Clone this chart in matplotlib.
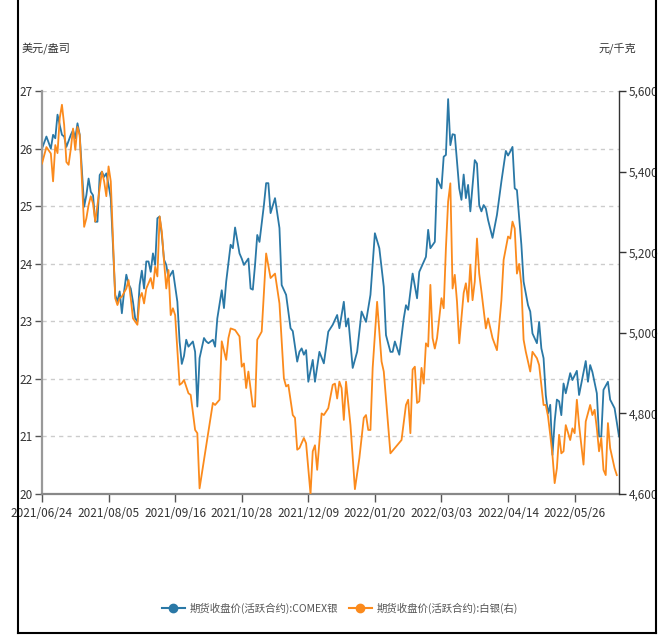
#!/usr/bin/env python3
import matplotlib
matplotlib.use("Agg")
import matplotlib.pyplot as plt
from matplotlib.lines import Line2D
from matplotlib.ticker import FuncFormatter

plt.rcParams['font.family'] = ['Noto Sans CJK SC', 'DejaVu Sans']

# tick dates, one every 30 trading days
tick_days = [0, 30, 60, 90, 120, 150, 180, 210, 240]
tick_labels = ['2021/06/24', '2021/08/05', '2021/09/16', '2021/10/28', '2021/12/09',
               '2022/01/20', '2022/03/03', '2022/04/14', '2022/05/26']

# COMEX silver, USD/oz (trading-day index, close)
comex_day = [0, 2, 4, 5, 6, 7, 8, 9, 10, 11, 13, 14, 15, 16, 17, 19, 20, 21, 22, 23,
             24, 25, 26, 27, 28, 29, 30, 31, 33, 34, 35, 36, 37, 38, 39, 40, 41, 42, 43, 44,
             45, 46, 47, 48, 49, 50, 51, 52, 53, 54, 55, 56, 57, 59, 61, 62, 63, 64, 65, 66,
             68, 69, 70, 71, 73, 74, 75, 77, 78, 79, 81, 82, 83, 85, 86, 87, 89, 90, 91, 93,
             94, 95, 96, 97, 98, 100, 101, 102, 103, 105, 107, 108, 110, 112, 113, 115, 116, 117, 118, 119,
             120, 122, 123, 125, 127, 129, 131, 133, 134, 136, 137, 138, 140, 142, 144, 146, 148, 150, 152, 154,
             155, 157, 158, 159, 161, 163, 164, 165, 167, 169, 170, 173, 174, 175, 177, 178, 180, 181, 182, 183,
             184, 185, 186, 188, 189, 190, 191, 192, 193, 195, 196, 197, 198, 199, 200, 201, 203, 205, 207, 209,
             210, 211, 212, 213, 214, 216, 217, 218, 219, 220, 221, 223, 224, 225, 226, 227, 228, 229, 230, 231,
             232, 233, 234, 235, 236, 238, 239, 241, 242, 244, 245, 246, 247, 248, 250, 251, 252, 253, 255, 256,
             258, 260]
comex_close = [26.00, 26.21, 26.00, 26.24, 26.18, 26.59, 26.41, 26.24, 26.21, 26.03, 26.24, 26.32, 26.18, 26.44, 26.24, 24.99, 25.19, 25.48, 25.25, 25.19,
               24.73, 24.73, 25.54, 25.60, 25.51, 25.57, 25.37, 25.14, 23.46, 23.34, 23.52, 23.14, 23.52, 23.81, 23.65, 23.57, 23.34, 23.05, 23.00, 23.63,
               23.88, 23.57, 24.04, 24.04, 23.86, 24.18, 23.98, 24.79, 24.82, 24.50, 24.07, 23.98, 23.75, 23.88, 23.34, 22.65, 22.26, 22.40, 22.68, 22.56,
               22.65, 22.47, 21.52, 22.36, 22.71, 22.65, 22.62, 22.68, 22.56, 23.05, 23.54, 23.23, 23.69, 24.33, 24.27, 24.63, 24.18, 24.09, 23.98, 24.09,
               23.57, 23.55, 23.98, 24.50, 24.38, 25.02, 25.40, 25.40, 24.88, 25.14, 24.62, 23.63, 23.46, 22.88, 22.83, 22.30, 22.47, 22.53, 22.42, 22.50,
               21.95, 22.33, 21.95, 22.47, 22.27, 22.82, 22.94, 23.11, 22.88, 23.34, 22.91, 23.05, 22.19, 22.47, 23.17, 22.99, 23.46, 24.53, 24.27, 23.60,
               22.76, 22.47, 22.47, 22.65, 22.42, 23.05, 23.28, 23.20, 23.83, 23.40, 23.86, 24.12, 24.59, 24.27, 24.38, 25.48, 25.31, 25.86, 25.89, 26.86,
               26.06, 26.25, 26.24, 25.31, 25.11, 25.55, 25.14, 25.37, 24.91, 25.80, 25.74, 25.02, 24.91, 25.02, 24.96, 24.76, 24.45, 24.85, 25.43, 25.96,
               25.88, 25.95, 26.03, 25.31, 25.28, 24.33, 23.69, 23.49, 23.28, 23.17, 22.79, 22.62, 22.99, 22.53, 22.36, 21.72, 21.40, 21.55, 20.68, 21.26,
               21.64, 21.61, 21.37, 21.92, 21.75, 22.10, 21.98, 22.14, 21.72, 22.12, 22.31, 21.95, 22.24, 22.12, 21.75, 21.00, 21.00, 21.81, 21.95, 21.64,
               21.49, 21.00]

# SHFE silver, CNY/kg (right axis)
shfe_day = [0, 2, 4, 5, 6, 7, 8, 9, 10, 11, 12, 13, 14, 15, 16, 17, 19, 20, 21, 22,
            23, 24, 26, 27, 28, 29, 30, 31, 33, 34, 35, 36, 38, 39, 40, 41, 43, 44, 45, 46,
            47, 49, 50, 51, 52, 53, 54, 55, 56, 57, 58, 59, 60, 62, 63, 64, 66, 67, 69, 70,
            71, 77, 78, 80, 81, 83, 84, 85, 87, 89, 90, 91, 92, 93, 95, 96, 97, 99, 101, 103,
            105, 107, 109, 110, 111, 113, 114, 115, 116, 118, 119, 121, 122, 123, 124, 126, 127, 129, 131, 132,
            133, 134, 135, 136, 137, 139, 141, 143, 145, 146, 147, 148, 149, 151, 153, 154, 157, 162, 164, 165,
            166, 167, 168, 169, 170, 171, 172, 173, 174, 175, 176, 177, 178, 180, 181, 182, 183, 184, 185, 186,
            187, 188, 190, 191, 192, 193, 194, 195, 196, 197, 198, 200, 201, 203, 205, 206, 207, 208, 210, 211,
            212, 213, 214, 215, 216, 217, 218, 220, 221, 223, 224, 226, 227, 228, 229, 230, 231, 232, 233, 234,
            235, 236, 238, 239, 240, 241, 242, 244, 245, 247, 248, 249, 250, 251, 252, 253, 254, 255, 256, 258,
            259]
shfe_close = [5420, 5461, 5445, 5376, 5466, 5446, 5533, 5566, 5516, 5424, 5417, 5457, 5507, 5454, 5511, 5491, 5263, 5284, 5317, 5339,
              5321, 5276, 5359, 5400, 5376, 5339, 5413, 5376, 5086, 5069, 5086, 5090, 5110, 5131, 5086, 5036, 5020, 5086, 5099, 5073,
              5110, 5136, 5110, 5164, 5140, 5289, 5251, 5177, 5110, 5156, 5044, 5061, 5044, 4871, 4875, 4883, 4850, 4846, 4759, 4751,
              4614, 4826, 4821, 4834, 4979, 4933, 4987, 5011, 5007, 4991, 4916, 4924, 4863, 4904, 4817, 4817, 4983, 5003, 5197, 5136,
              5147, 5073, 4887, 4867, 4871, 4796, 4789, 4710, 4714, 4739, 4726, 4600, 4706, 4721, 4660, 4800, 4796, 4813, 4871, 4874,
              4837, 4879, 4863, 4784, 4879, 4771, 4612, 4689, 4789, 4796, 4759, 4759, 4913, 5077, 4929, 4904, 4701, 4734, 4821, 4834,
              4751, 4909, 4916, 4826, 4830, 4913, 4874, 4974, 4966, 5119, 4987, 4961, 4987, 5086, 5061, 5210, 5326, 5371, 5110, 5144,
              5077, 4974, 5099, 5123, 5077, 5169, 5081, 5127, 5234, 5147, 5103, 5011, 5036, 4987, 4957, 5020, 5081, 5181, 5239, 5234,
              5276, 5259, 5147, 5171, 5119, 4983, 4953, 4904, 4953, 4937, 4920, 4821, 4821, 4793, 4747, 4697, 4627, 4664, 4747, 4701,
              4706, 4771, 4734, 4763, 4751, 4834, 4771, 4673, 4780, 4821, 4796, 4809, 4763, 4706, 4739, 4660, 4647, 4776, 4714, 4664,
              4647]

BLUE = '#2a78a6'
ORANGE = '#fb8a1c'


def main() -> None:
    fig = plt.figure(figsize=(6.61, 6.35), dpi=100)
    ax = fig.add_axes([0.0635, 0.222, 0.873, 0.6346])
    ax2 = ax.twinx()

    ax.plot(comex_day, comex_close, color=BLUE, lw=1.3)
    ax2.plot(shfe_day, shfe_close, color=ORANGE, lw=1.3)

    ax.set_xlim(0, 260)
    ax.set_ylim(20, 27)
    ax2.set_ylim(4600, 5600)
    ax.set_yticks(range(20, 28))
    ax2.set_yticks(range(4600, 5601, 200))
    ax2.yaxis.set_major_formatter(FuncFormatter(lambda v, p: f'{int(v):,}'))
    ax.set_xticks(tick_days)
    ax.set_xticklabels(tick_labels)

    ax.grid(axis='y', color='#cccccc', ls=(0, (3, 3)), lw=1.0)
    ax.set_axisbelow(True)

    for a in (ax, ax2):
        a.spines['top'].set_visible(False)
    ax.spines['right'].set_visible(False)
    ax.spines['left'].set_color('#999999')
    ax.spines['left'].set_linewidth(1.6)
    ax.spines['bottom'].set_color('#888888')
    ax.spines['bottom'].set_linewidth(1.6)
    ax2.spines['left'].set_visible(False)
    ax2.spines['bottom'].set_visible(False)
    ax2.spines['right'].set_color('#333333')
    ax2.spines['right'].set_linewidth(1.0)

    ax.tick_params(axis='y', length=5, width=1, color='#555555', labelsize=8.5, labelcolor='#333333', pad=2)
    ax.tick_params(axis='x', length=6, width=1, color='#555555', labelsize=8.5, labelcolor='#333333', pad=3)
    ax2.tick_params(axis='y', length=5, width=1, color='#333333', labelsize=8.5, labelcolor='#333333', pad=2)

    fig.text(22 / 661, 1 - 48 / 635, '美元/盎司', fontsize=8, color='#333333', va='center', ha='left')
    fig.text(636 / 661, 1 - 48 / 635, '元/千克', fontsize=8, color='#333333', va='center', ha='right')

    handles = [
        Line2D([], [], color=BLUE, lw=1.5, marker='o', markersize=6),
        Line2D([], [], color=ORANGE, lw=1.5, marker='o', markersize=6),
    ]
    fig.legend(handles, ['期货收盘价(活跃合约):COMEX银', '期货收盘价(活跃合约):白银(右)'],
               loc='center', bbox_to_anchor=(340 / 661, 1 - 608 / 635), ncol=2, frameon=False,
               fontsize=7.5, labelcolor='#555555', handlelength=2.2, columnspacing=1.0, handletextpad=0.5)

    # outer frame
    for xs, ys in (([18, 18], [0, 633]), ([656, 656], [0, 633]), ([18, 656], [633, 633])):
        fig.add_artist(Line2D([x / 661 for x in xs], [1 - y / 635 for y in ys],
                              transform=fig.transFigure, color='black', lw=1.5))

    fig.savefig('out.png', dpi=100)
    plt.close(fig)


if __name__ == '__main__':
    main()
